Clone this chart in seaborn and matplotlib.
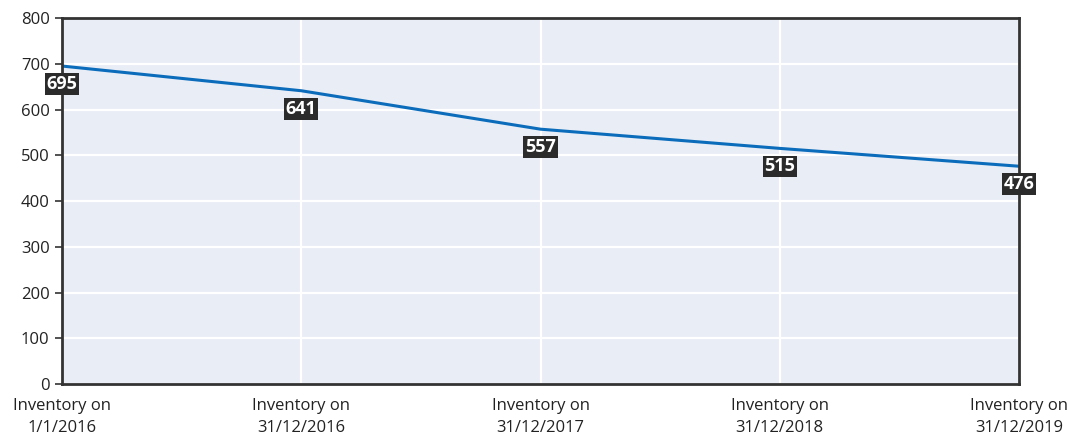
import matplotlib
matplotlib.use("Agg")
import matplotlib.pyplot as plt
import seaborn as sns
import pandas as pd

categories = ["Inventory on\n1/1/2016", "Inventory on\n31/12/2016", "Inventory on\n31/12/2017",
              "Inventory on\n31/12/2018", "Inventory on\n31/12/2019"]
values = [695, 641, 557, 515, 476]
y_ticks = [0, 100, 200, 300, 400, 500, 600, 700, 800]

sns.set_theme(style="darkgrid")
plt.rcParams["font.family"] = ["Open Sans", "DejaVu Sans"]

df = pd.DataFrame({"pos": range(len(categories)), "value": values})

fig = plt.figure(figsize=(10.69, 4.36), dpi=100)
ax = fig.add_axes([62 / 1069, 1 - 384 / 436, (1019 - 62) / 1069, (384 - 18) / 436])
ax.set_facecolor("#e9edf6")

sns.lineplot(data=df, x="pos", y="value", ax=ax, color="#0b6cbb", linewidth=2.2)

ax.set_xlim(0, len(categories) - 1)
ax.set_ylim(0, 800)
ax.set_xticks(range(len(categories)))
ax.set_xticklabels(categories, fontsize=12, color="#222222", linespacing=1.55)
ax.set_yticks(y_ticks)
ax.set_yticklabels([str(t) for t in y_ticks], fontsize=12, color="#222222")
ax.set_xlabel("")
ax.set_ylabel("")

ax.grid(True, color="white", linewidth=1.6)
ax.tick_params(axis="y", which="both", left=True, length=5, width=1.2, color="#333333", pad=4)
ax.tick_params(axis="x", which="both", bottom=False, pad=4)

for s in ax.spines.values():
    s.set_visible(True)
    s.set_color("#333333")
    s.set_linewidth(2)

for x, v in zip(df["pos"], df["value"]):
    ax.annotate(str(v), xy=(x, v), xytext=(0, -13), textcoords="offset points",
                ha="center", va="center", fontsize=13, fontweight="bold", color="white",
                bbox=dict(boxstyle="square,pad=0.1", facecolor="#2b2b2b", edgecolor="none"),
                annotation_clip=False, zorder=5)

fig.savefig("out.png", dpi=100)
